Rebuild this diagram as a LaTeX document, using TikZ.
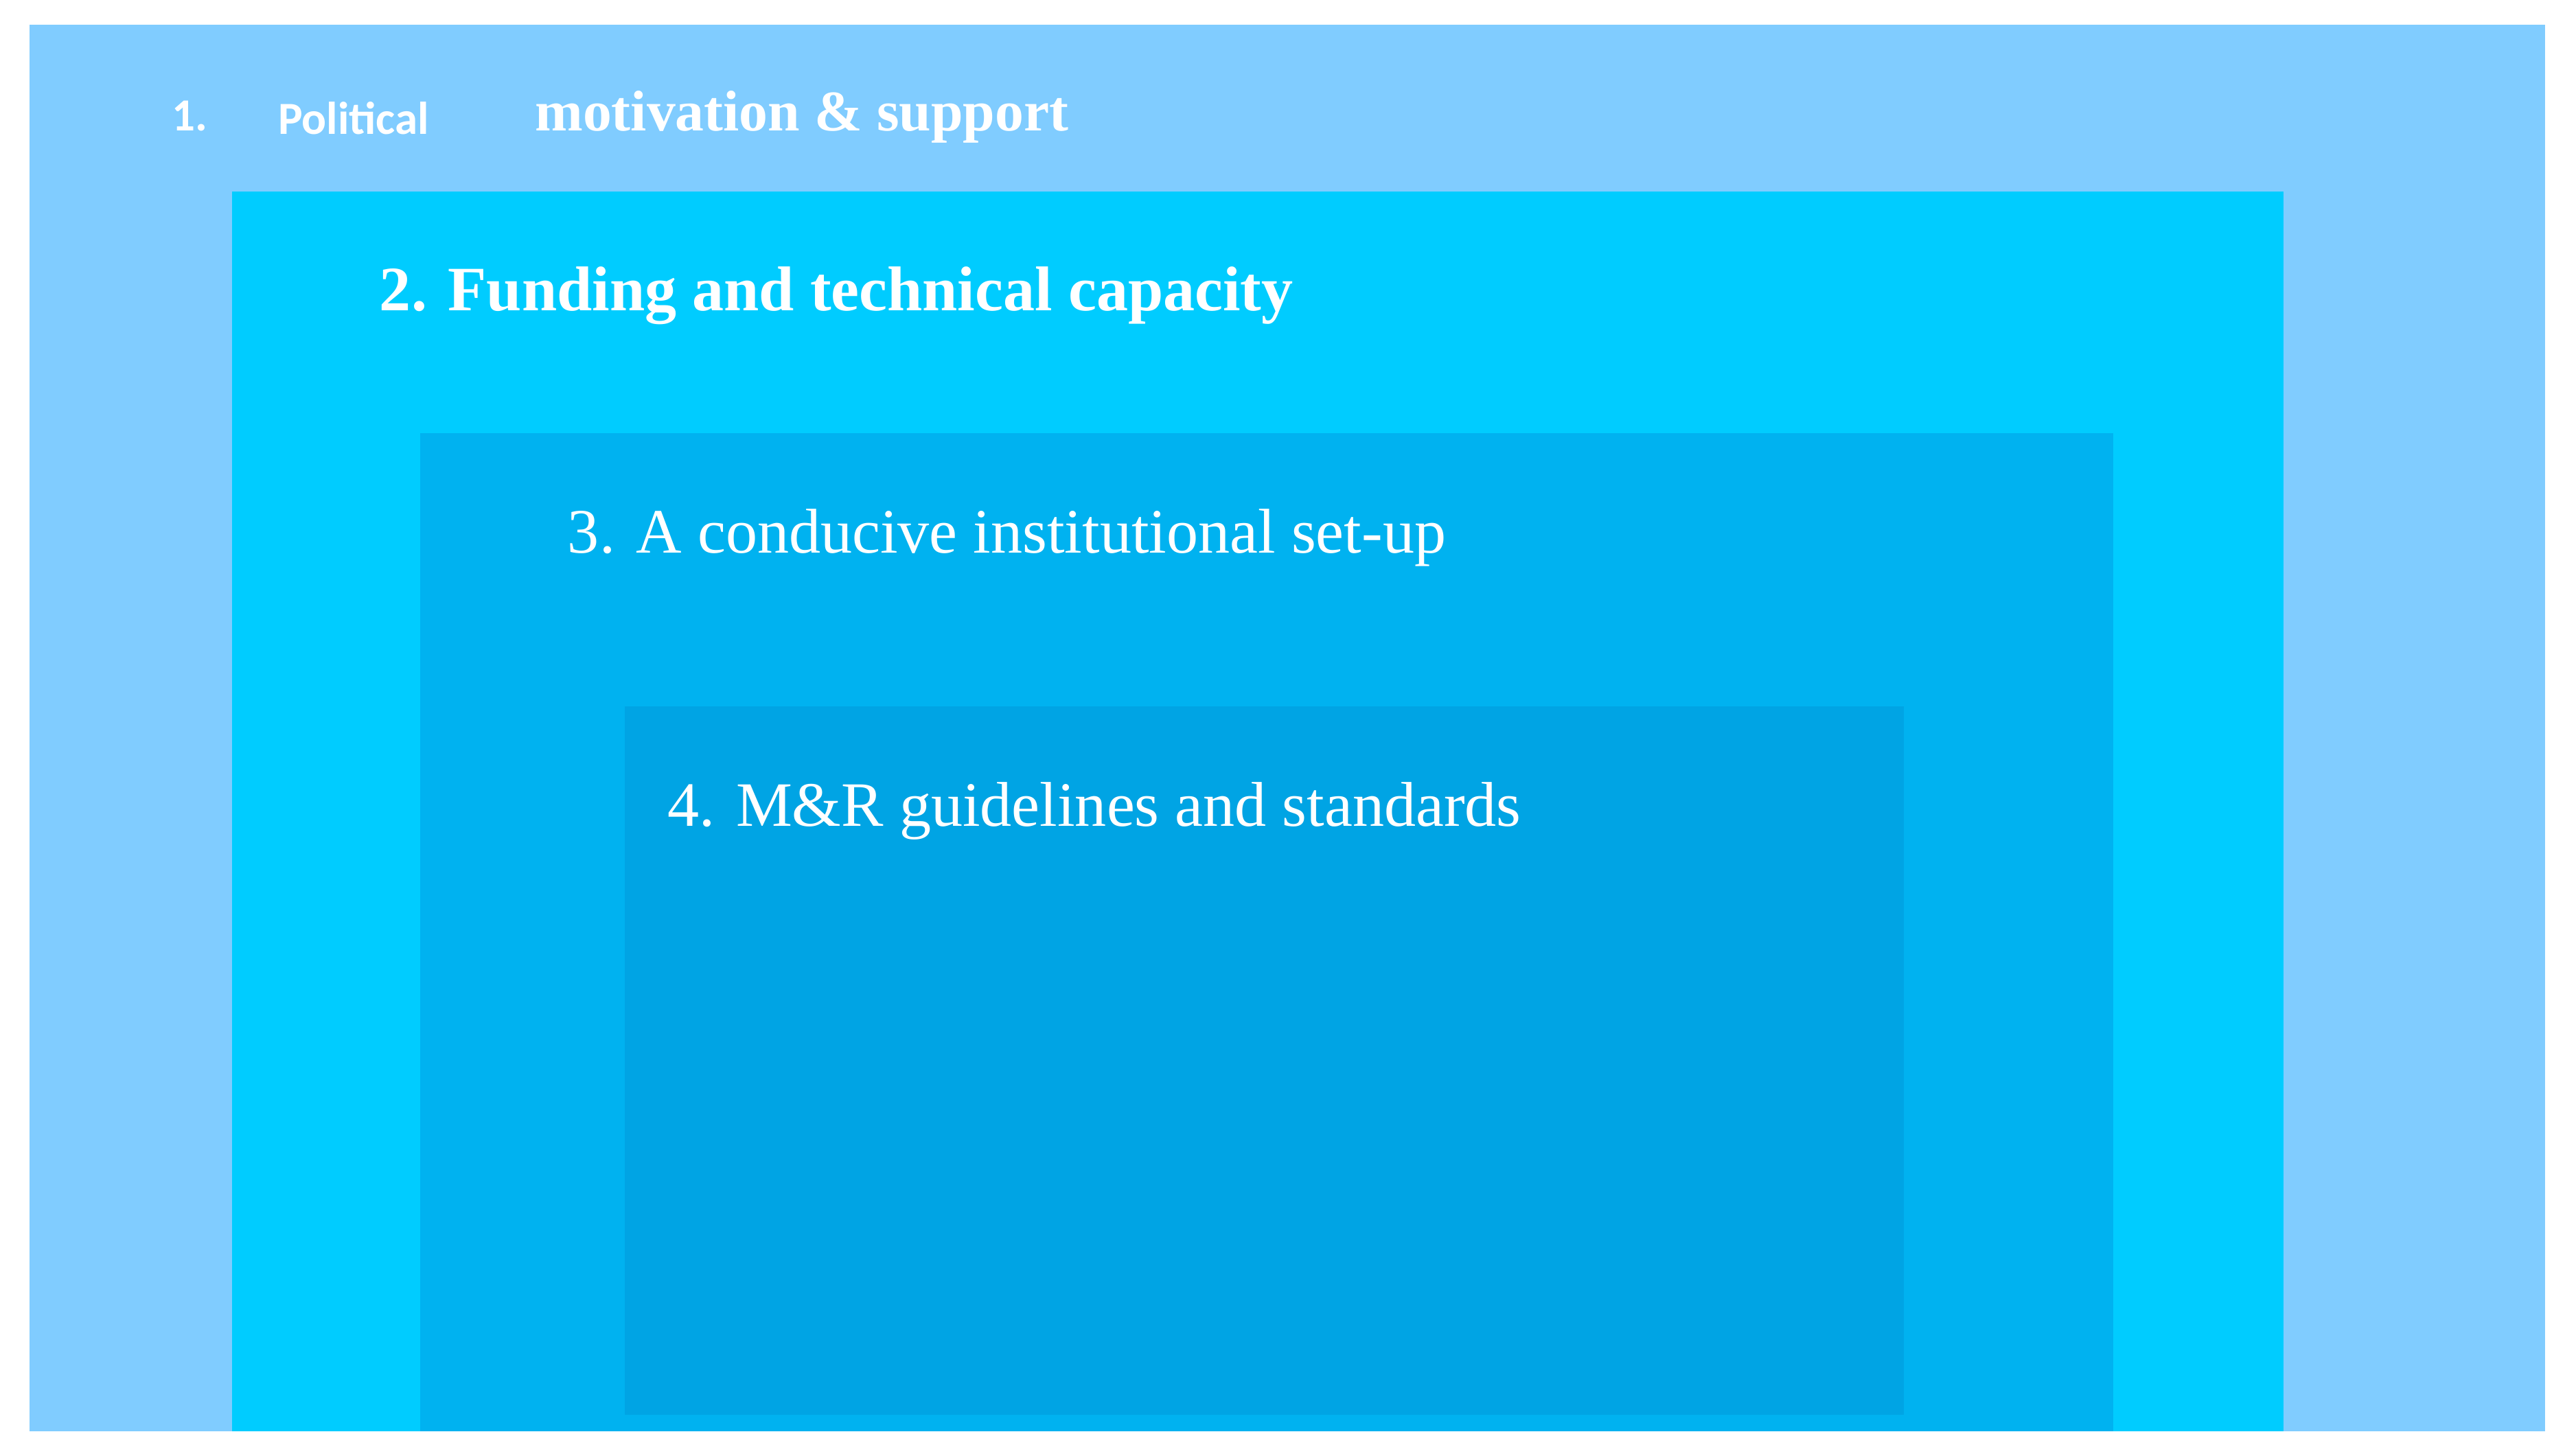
\documentclass[tikz,border=0pt]{standalone}
\usepackage{fontspec}
\setmainfont{Liberation Serif}
\newfontfamily\calib{Carlito}
\definecolor{c1}{HTML}{80CCFF}
\definecolor{c2}{HTML}{00CCFF}
\definecolor{c3}{HTML}{00B2F0}
\definecolor{c4}{HTML}{00A4E4}
\begin{document}
\begin{tikzpicture}[x=0.1cm,y=-0.1cm,
  lbl/.style={anchor=base west,inner sep=0,text=white,font=\fontsize{100}{120}\selectfont}]
\useasboundingbox (0,0) rectangle (1568,890);
\fill[white] (0,0) rectangle (1568,890);
\fill[c1] (18,15) rectangle (1556,875);
\fill[c2] (142,117) rectangle (1396,875);
\fill[c3] (257,265) rectangle (1292,875);
\fill[c4] (382,432) rectangle (1164,865);
\node[lbl,font=\calib\bfseries\fontsize{80}{96}\selectfont] (t1a) at (105,80) {1.};
\node[lbl,font=\calib\bfseries\fontsize{80}{96}\selectfont] (t1b) at (170,82) {Political};
\node[lbl,font=\bfseries\fontsize{100}{120}\selectfont] (t1c) at (327,80) {motivation \& support};
\node[lbl,font=\bfseries\fontsize{110}{130}\selectfont] (t2) at (232,190) {2. Funding and technical capacity};
\node[lbl,font=\fontsize{110}{130}\selectfont] (t3) at (347,338) {3. A conducive institutional set-up};
\node[lbl,font=\fontsize{110}{130}\selectfont] (t4) at (408,505) {4. M\&R guidelines and standards};
\end{tikzpicture}
\end{document}
